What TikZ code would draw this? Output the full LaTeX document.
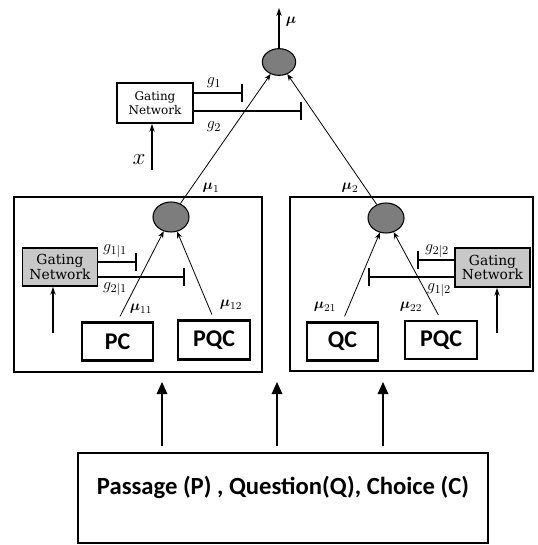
\documentclass[tikz,border=0pt]{standalone}
\usepackage{amsmath,bm}
\usepackage{fontspec}
\newfontfamily\calib{Carlito}
\newfontfamily\gserif{DejaVu Serif}
\usetikzlibrary{arrows.meta,shapes.geometric}
\definecolor{sumgray}{RGB}{125,125,125}
\definecolor{gatefill}{RGB}{200,200,200}
\begin{document}
\begin{tikzpicture}[x=0.75pt,y=-0.75pt,
  sumnode/.style={ellipse,draw,line width=0.8pt,fill=sumgray,inner sep=0pt},
  gatebox/.style={draw,line width=1.2pt,align=center,inner sep=0pt},
  topgatefont/.style={font=\gserif\fontsize{9}{10}\selectfont},
  sidegatefont/.style={font=\gserif\fontsize{10.4}{10.6}\selectfont},
  outerbox/.style={draw,line width=2.2pt,inner sep=0pt},
  itembox/.style={draw,line width=1.8pt,inner sep=0pt,font=\calib\bfseries\fontsize{18}{20}\selectfont},
  muline/.style={line width=0.6pt,-{Stealth[length=5pt,width=4pt]}},
  gline/.style={line width=1.1pt,-{Bar[width=13pt,line width=1.3pt]}},
  inarrow/.style={line width=0.8pt,-{Stealth[length=6pt,width=4pt]}},
  bigarrow/.style={line width=0.9pt,-{Triangle[length=9pt,width=8pt]}},
  lbl/.style={inner sep=0pt,font=\fontsize{11}{13}\selectfont},
  glbl/.style={inner sep=0pt,font=\fontsize{12.5}{14}\selectfont}
]
\useasboundingbox (0,0) rectangle (537,545);

% top level
\node[sumnode,minimum width=25pt,minimum height=20pt] (c0) at (279,62) {};
\coordinate (out) at (279,8);
\draw[inarrow] (c0) -- (out);
\node[lbl] (mu) at (291,22) {$\bm{\mu}$};

\node[gatebox,topgatefont,fill=white,minimum width=57pt,minimum height=30pt] (gate0) at (155,103) {Gating\\Network};
\coordinate (b1) at (243,93);
\coordinate (b2) at (302,111);
\draw[gline] (gate0.east |- b1) -- (b1);
\draw[gline] (gate0.east |- b2) -- (b2);
\node[glbl] (g1) at (214,83) {$g_1$};
\node[glbl] (g2) at (214,127) {$g_2$};
\coordinate (xin) at (152,170);
\draw[inarrow] (xin) -- (xin |- gate0.south);
\node[inner sep=0pt,font=\LARGE] (x) at (139,160) {$x$};

% left expert box
\node[outerbox,minimum width=186pt,minimum height=131.25pt] (lbox) at (138,284.5) {};
\node[sumnode,minimum width=27pt,minimum height=22.5pt] (c1) at (171,217) {};
\node[itembox,minimum width=53.25pt,minimum height=28.5pt] (pc) at (117.5,341.5) {PC};
\node[itembox,minimum width=54pt,minimum height=29pt] (pqc1) at (214,340) {PQC};
\draw[muline,shorten <=4pt] (pc.north) -- (c1);
\draw[muline,shorten <=4pt] (pqc1.north) -- (c1);
\node[lbl] (mu11) at (141,309) {$\bm{\mu}_{11}$};
\node[lbl] (mu12) at (231,305) {$\bm{\mu}_{12}$};

\node[gatebox,sidegatefont,fill=gatefill,minimum width=56pt,minimum height=28.5pt] (gate1) at (60,267) {Gating\\Network};
\coordinate (b11) at (137,262);
\coordinate (b21) at (185,277);
\draw[gline] (gate1.east |- b11) -- (b11);
\draw[gline] (gate1.east |- b21) -- (b21);
\node[glbl] (g11) at (115,251) {$g_{1|1}$};
\node[glbl] (g21) at (115,289) {$g_{2|1}$};
\coordinate (in1) at (53,333);
\draw[inarrow] (in1) -- (in1 |- gate1.south);

% right expert box
\node[outerbox,minimum width=182.25pt,minimum height=130.5pt] (rbox) at (411.5,284) {};
\node[sumnode,minimum width=27pt,minimum height=22.5pt] (c2) at (386,218) {};
\node[itembox,minimum width=53.25pt,minimum height=28.5pt] (qc) at (342.5,341.5) {QC};
\node[itembox,minimum width=54pt,minimum height=28.5pt] (pqc2) at (441,340) {PQC};
\draw[muline,shorten <=4pt] (qc.north) -- (c2);
\draw[muline,shorten <=4pt] (pqc2.north) -- (c2);
\node[lbl] (mu21) at (325,307) {$\bm{\mu}_{21}$};
\node[lbl] (mu22) at (411,307) {$\bm{\mu}_{22}$};

\node[gatebox,sidegatefont,fill=gatefill,minimum width=56.25pt,minimum height=29.25pt] (gate2) at (492.5,267.5) {Gating\\Network};
\coordinate (b22) at (417,260);
\coordinate (b12) at (368,277);
\draw[gline] (gate2.west |- b22) -- (b22);
\draw[gline] (gate2.west |- b12) -- (b12);
\node[glbl] (g22) at (437,251) {$g_{2|2}$};
\node[glbl] (g12) at (439,290) {$g_{1|2}$};
\coordinate (in2) at (497,333);
\draw[inarrow] (in2) -- (in2 |- gate2.south);

% connections to top
\draw[muline] (c1) -- (c0);
\draw[muline] (c2) -- (c0);
\node[lbl] (mu1) at (211,188) {$\bm{\mu}_1$};
\node[lbl] (mu2) at (350,188) {$\bm{\mu}_2$};

% input box
\node[draw,line width=2pt,minimum width=307.5pt,minimum height=67.5pt] (inp) at (283,498) {};
\node[inner sep=0pt,font=\calib\bfseries\fontsize{18.5}{20}\selectfont] (inptext) at (283,487) {Passage (P) , Question(Q), Choice (C)};
\coordinate (a1) at (162,382);
\coordinate (a2) at (277,382);
\coordinate (a3) at (383,382);
\draw[bigarrow,shorten <=4pt] (inp.north -| a1) -- (a1);
\draw[bigarrow,shorten <=4pt] (inp.north -| a2) -- (a2);
\draw[bigarrow,shorten <=4pt] (inp.north -| a3) -- (a3);
\end{tikzpicture}
\end{document}
